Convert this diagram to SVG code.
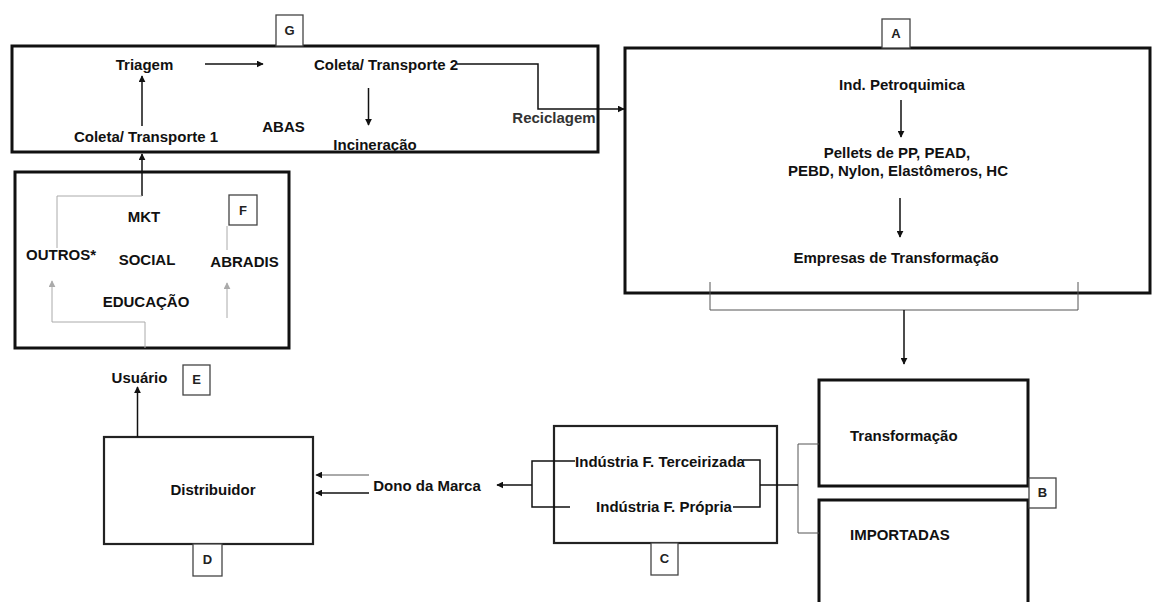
<svg xmlns="http://www.w3.org/2000/svg" width="1153" height="602" viewBox="0 0 1153 602">
<defs>
<marker id="ah" viewBox="0 0 10 10" refX="9" refY="5" markerWidth="7" markerHeight="7" markerUnits="userSpaceOnUse" orient="auto"><path d="M0,0 L10,5 L0,10 z" fill="#111"/></marker>
<marker id="ahg" viewBox="0 0 10 10" refX="9" refY="5" markerWidth="7" markerHeight="7" markerUnits="userSpaceOnUse" orient="auto"><path d="M0,0 L10,5 L0,10 z" fill="#aaa"/></marker>
<style>
text{font-family:"Liberation Sans",Arial,sans-serif;font-weight:bold;font-size:15px;fill:#111}
.c{text-anchor:middle}
.l{font-size:13px;fill:#222}
.big{fill:none;stroke:#111;stroke-width:3}
.mid{fill:none;stroke:#222;stroke-width:2.2}
.lab{fill:#fff;stroke:#444;stroke-width:1.3}
.ln{fill:none;stroke:#111;stroke-width:1.5}
.thin{fill:none;stroke:#555;stroke-width:1}
.faint{fill:none;stroke:#aaa;stroke-width:1}
</style>
</defs>
<rect width="1153" height="602" fill="#fff"/>

<g id="G">
<rect class="big" x="12" y="46" width="586" height="106"/>
<rect class="lab" x="276" y="15" width="27" height="31"/>
<text class="c l" x="289.5" y="35">G</text>
<text class="c" x="144.5" y="70">Triagem</text>
<text class="c" x="386" y="70">Coleta/ Transporte 2</text>
<text class="c" x="283.5" y="132">ABAS</text>
<text class="c" x="146" y="142">Coleta/ Transporte 1</text>
<text class="c" x="375" y="150">Incineração</text>
<text class="c" x="554" y="123" style="fill:#333">Reciclagem</text>
</g>

<g id="A">
<rect class="big" x="625" y="48" width="525" height="245"/>
<rect class="lab" x="882" y="19" width="28" height="29"/>
<text class="c l" x="896" y="38">A</text>
<text class="c" x="902" y="90">Ind. Petroquimica</text>
<text class="c" x="897" y="158">Pellets de PP, PEAD,</text>
<text class="c" x="898" y="176">PEBD, Nylon, Elastômeros, HC</text>
<text class="c" x="896" y="263">Empresas de Transformação</text>
</g>

<g id="B">
<rect class="big" x="819" y="380" width="209" height="106"/>
<rect class="big" x="819" y="500" width="209" height="110"/>
<rect class="lab" x="1029" y="478" width="27" height="30"/>
<text class="c l" x="1042.5" y="497">B</text>
<text x="850" y="441">Transformação</text>
<text x="850" y="540">IMPORTADAS</text>
</g>

<g id="C">
<rect class="mid" x="554" y="426" width="223" height="117"/>
<rect class="lab" x="651" y="543" width="27" height="32"/>
<text class="c l" x="664.5" y="563">C</text>
<text class="c" x="660" y="467">Indústria F. Terceirizada</text>
<text class="c" x="664" y="512">Indústria F. Própria</text>
</g>

<g id="D">
<rect class="mid" x="104" y="437" width="209" height="107"/>
<rect class="lab" x="193" y="544" width="29" height="32"/>
<text class="c l" x="207.5" y="564">D</text>
<text class="c" x="213" y="495">Distribuidor</text>
<text class="c" x="427" y="491">Dono da Marca</text>
</g>

<g id="E">
<rect class="lab" x="183" y="365" width="27" height="30"/>
<text class="c l" x="196.5" y="384">E</text>
<text class="c" x="139.5" y="383">Usuário</text>
</g>

<g id="F">
<rect class="big" x="15" y="172" width="274" height="176"/>
<rect class="lab" x="229" y="195" width="28" height="30"/>
<text class="c l" x="243" y="215">F</text>
<text class="c" x="144" y="222">MKT</text>
<text class="c" x="61" y="260">OUTROS*</text>
<text class="c" x="147" y="265">SOCIAL</text>
<text class="c" x="244.5" y="267">ABRADIS</text>
<text class="c" x="146" y="307">EDUCAÇÃO</text>
</g>

<g id="connectors">
<path class="ln" d="M205,64 H263" marker-end="url(#ah)"/>
<path class="ln" d="M457,64 H538 V109 H624" marker-end="url(#ah)"/>
<path class="ln" d="M368.5,88 V125" marker-end="url(#ah)"/>
<path class="ln" d="M142,126 V76" marker-end="url(#ah)"/>
<path class="ln" d="M142,196 V154" marker-end="url(#ah)"/>
<path class="faint" d="M57,248 V196 H142"/>
<path class="faint" d="M145,348 V322 H52 V281" marker-end="url(#ahg)"/>
<path class="faint" d="M227,226 V250"/>
<path class="faint" d="M227,318 V283" marker-end="url(#ahg)"/>
<path class="ln" d="M901,100 V137" marker-end="url(#ah)"/>
<path class="ln" d="M900,198 V237" marker-end="url(#ah)"/>
<path class="thin" d="M710,282 V310 H1078 V282"/>
<path class="ln" d="M904,310 V364" marker-end="url(#ah)"/>
<path class="thin" d="M819,444 H798 V533 H819"/>
<path class="ln" d="M760,485 H798"/>
<path class="ln" d="M743,460 H760 V507 H733"/>
<path class="ln" d="M575,461 H532 V507 H570"/>
<path class="ln" d="M532,485 H497" marker-end="url(#ah)"/>
<path class="thin" d="M369,475 H316" marker-end="url(#ah)"/>
<path class="ln" d="M369,493 H316" marker-end="url(#ah)"/>
<path class="ln" d="M137.5,437 V387" marker-end="url(#ah)"/>
</g>
</svg>
